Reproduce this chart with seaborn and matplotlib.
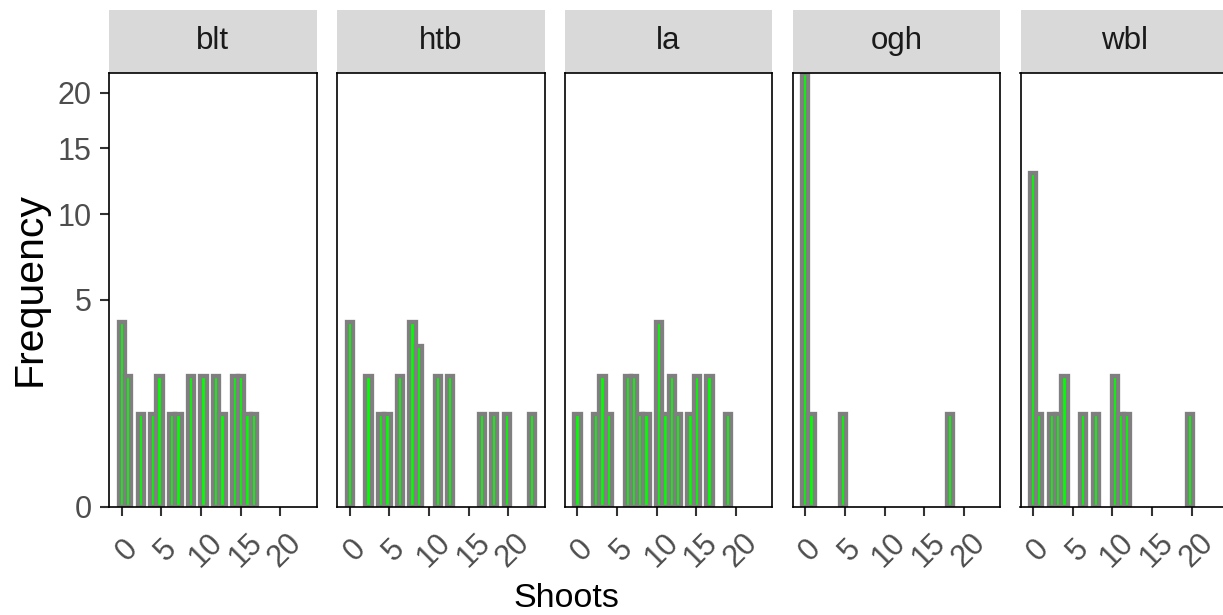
import numpy as np
import pandas as pd
import matplotlib
matplotlib.use("Agg")
import matplotlib.pyplot as plt
import matplotlib.transforms as mtransforms
from matplotlib.patches import Rectangle
import seaborn as sns

# ---- data (shoot counts and how many plants had that count, per site) ----
sites = ["blt", "htb", "la", "ogh", "wbl"]
blt_shoots = [0, 1, 2, 4, 5, 6, 7, 9, 10, 12, 13, 14, 15, 16, 17]
blt_freq = [4, 2, 1, 1, 2, 1, 1, 2, 2, 2, 1, 2, 2, 1, 1]
htb_shoots = [0, 2, 4, 5, 6, 8, 9, 11, 13, 17, 18, 20, 23]
htb_freq = [4, 2, 1, 1, 2, 4, 3, 2, 2, 1, 1, 1, 1]
la_shoots = [0, 2, 3, 4, 6, 7, 8, 9, 10, 11, 12, 13, 14, 15, 17, 19]
la_freq = [1, 1, 2, 1, 2, 2, 1, 1, 4, 1, 2, 1, 1, 2, 2, 1]
ogh_shoots = [0, 1, 5, 18]
ogh_freq = [22, 1, 1, 1]
wbl_shoots = [0, 1, 2, 3, 4, 6, 8, 10, 11, 12, 20]
wbl_freq = [13, 1, 1, 1, 2, 1, 1, 2, 1, 1, 1]
x_ticks = [0, 5, 10, 15, 20]
y_ticks = [0, 5, 10, 15, 20]

shoots = {"blt": blt_shoots, "htb": htb_shoots, "la": la_shoots,
          "ogh": ogh_shoots, "wbl": wbl_shoots}
freqs = {"blt": blt_freq, "htb": htb_freq, "la": la_freq,
         "ogh": ogh_freq, "wbl": wbl_freq}
df = pd.concat([pd.DataFrame({"Site": s, "Shoots": shoots[s], "n": freqs[s]})
                for s in sites], ignore_index=True)

# ggplot-style 30 bins centred on the data minimum
lo, hi = float(df["Shoots"].min()), float(df["Shoots"].max())
bw = (hi - lo) / 29
brange = (lo - bw / 2, hi + bw / 2)
span = hi - lo + bw
xlim = (lo - bw / 2 - 0.05 * span, hi + bw / 2 + 0.05 * span)

plt.rcParams["font.family"] = ["Liberation Sans", "DejaVu Sans"]

W, H = 1223, 615
DPI = 100
fig = plt.figure(figsize=(W / DPI, H / DPI), dpi=DPI)
fig.patch.set_facecolor("white")

fwd = lambda v: np.sqrt(np.clip(v, 0, None))
inv = lambda v: np.square(v)

panel_w, panel_h = 207.4, 434.0
top_px, bottom_px = 72.7, 506.7
strip_h = 62.7

for i, site in enumerate(sites):
    left = 109.3 + i * 227.8
    ax = fig.add_axes([left / W, (H - bottom_px) / H, panel_w / W, panel_h / H])
    sub = df[df["Site"] == site]
    sns.histplot(data=sub, x="Shoots", weights="n", binwidth=bw,
                 binrange=brange, stat="count",
                 color="#00FF00", edgecolor="#7F7F7F", linewidth=3.1,
                 alpha=1, ax=ax)
    for p in ax.patches:
        if p.get_height() <= 0:
            p.set_visible(False)
    ax.set_yscale("function", functions=(fwd, inv))
    ax.set_ylim(0, 22)
    ax.set_xlim(*xlim)
    ax.set_xlabel("")
    ax.set_ylabel("")
    ax.set_facecolor("white")
    for sp in ax.spines.values():
        sp.set_visible(True)
        sp.set_color("black")
        sp.set_linewidth(1.2)
        sp.set_zorder(5)

    ax.set_xticks(x_ticks)
    ax.set_xticklabels([str(t) for t in x_ticks])
    ax.tick_params(axis="x", length=6.5, width=1.5, color="#333333",
                   labelsize=22, labelcolor="#4D4D4D", pad=25.0)
    off = mtransforms.ScaledTranslation(5 / DPI, 0, fig.dpi_scale_trans)
    for lab in ax.get_xticklabels():
        lab.set_rotation(45)
        lab.set_ha("center")
        lab.set_va("center")
        lab.set_rotation_mode("anchor")
        lab.set_transform(lab.get_transform() + off)

    ax.set_yticks(y_ticks)
    ax.yaxis.set_minor_locator(matplotlib.ticker.NullLocator())
    if i == 0:
        ax.set_yticklabels([str(t) for t in y_ticks])
        ax.tick_params(axis="y", length=6.5, width=1.5, color="#333333",
                       labelsize=22, labelcolor="#4D4D4D", pad=6.0)
    else:
        ax.tick_params(axis="y", left=False, labelleft=False)

    # facet strip
    ax.add_patch(Rectangle((0, 1), 1, strip_h / panel_h, transform=ax.transAxes,
                           clip_on=False, facecolor="#D9D9D9",
                           edgecolor="none", zorder=0))
    ax.text(0.5, 1 + strip_h / 2 / panel_h, site, transform=ax.transAxes,
            ha="center", va="center", fontsize=22.5, color="#1A1A1A")

fig.text(30 / W, 1 - 289 / H, "Frequency", rotation=90, ha="center",
         va="center", fontsize=29.5, color="black")
fig.text(566 / W, 1 - 607 / H, "Shoots", ha="center", va="baseline",
         fontsize=24.5, color="black")

fig.savefig("out.png", dpi=DPI)
